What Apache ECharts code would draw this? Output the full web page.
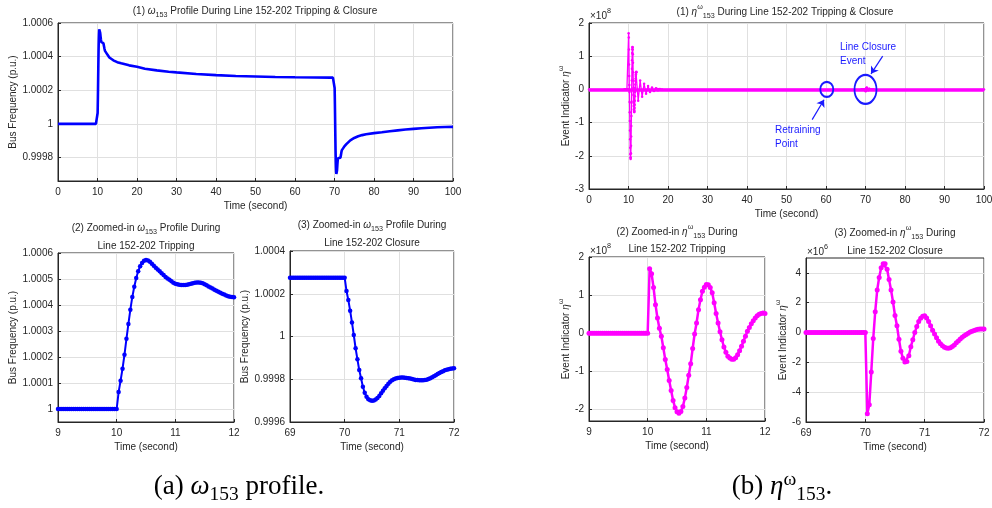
<!DOCTYPE html>
<html><head><meta charset="utf-8">
<script src="https://cdn.jsdelivr.net/npm/echarts@6/dist/echarts.min.js"></script>
<style>html,body{margin:0;padding:0;background:#fff}#c{width:992px;height:508px}</style>
</head><body><div id="c"></div>
<script>
// ---------------- DATA ----------------
const sampleRate = 30;           // samples per second (PMU rate)
const tripStart = 9;             // start time of tripping window
const closeStart = 69;           // start time of closure window

// omega_153 (p.u.), 9..12 s
const omegaTripValues = [
1,1,1,1,1,1,1,1,1,1, 1,1,1,1,1,1,1,1,1,1, 1,1,1,1,1,1,1,1,1,1, 1,
1.000065,1.000109,1.000155,1.000209,1.000270,1.000327,1.000382,1.000431,1.000470,1.000504,1.000530,1.000549,1.000562,1.000570,1.000573,
1.000571,1.000566,1.000559,1.000551,1.000543,1.000537,1.000530,1.000522,1.000515,1.000508,1.000502,1.000497,1.000491,1.000486,1.000482,
1.000480,1.000478,1.000477,1.000477,1.000477,1.000478,1.000480,1.000482,1.000484,1.000486,1.000487,1.000487,1.000486,1.000484,1.000480,
1.000476,1.000471,1.000467,1.000463,1.000459,1.000455,1.000451,1.000447,1.000443,1.000440,1.000437,1.000434,1.000432,1.000431,1.000430
];
// omega_153 (p.u.), 69..72 s
const omegaCloseValues = [
1.000275,1.000275,1.000275,1.000275,1.000275,1.000275,1.000275,1.000275,1.000275,1.000275,
1.000275,1.000275,1.000275,1.000275,1.000275,1.000275,1.000275,1.000275,1.000275,1.000275,
1.000275,1.000275,1.000275,1.000275,1.000275,1.000275,1.000275,1.000275,1.000275,1.000275,
1.000275,
1.000213,1.000171,1.000121,1.000066,1.000007,0.999945,0.999893,0.999843,0.999805,0.999765,0.999737,0.999718,0.999707,0.999702,0.999700,
0.999701,0.999705,0.999712,0.999722,0.999734,0.999746,0.999758,0.999769,0.999779,0.999788,0.999795,0.999800,0.999804,0.999806,0.999807,
0.999808,0.999808,0.999807,0.999806,0.999805,0.999803,0.999801,0.999799,0.999797,0.999796,0.999795,0.999795,0.999795,0.999796,0.999798,
0.999801,0.999805,0.999809,0.999814,0.999819,0.999824,0.999829,0.999834,0.999838,0.999842,0.999845,0.999847,0.999849,0.999850,0.999851
];
// omega_153 slow decay after tripping
const omegaPreTimes = [0];
const omegaPreValues = [1];
const omegaDecayTimes = [12.5,13,14,15,16,17,18,20,22,25,28,30,35,40,45,50,55,60,65];
const omegaDecayValues = [1.000412,1.000395,1.000378,1.000367,1.000360,1.000354,1.000348,1.000340,1.000328,1.000318,1.000310,1.000306,1.000297,1.000290,1.000285,1.000282,1.000279,1.000277,1.000276];
// omega_153 recovery after closure
const omegaRecoveryTimes = [72.5,73,74,75,76,77,78,80,82,84,86,88,90,92,94,96,98,100];
const omegaRecoveryValues = [0.999866,0.999879,0.999902,0.999916,0.999926,0.999933,0.999938,0.999945,0.999950,0.999956,0.999961,0.999966,0.999970,0.999974,0.999977,0.999980,0.999981,0.999982];

// eta (x1e8), 9..12 s
const etaTripValues = [
0,0,0,0,0,0,0,0,0,0, 0,0,0,0,0,0,0,0,0,0, 0,0,0,0,0,0,0,0,0,0, 0,
1.69,1.56,1.20,0.75,0.40,0.13,-0.08,-0.38,-0.69,-0.95,-1.24,-1.50,-1.76,-1.95,-2.06,
-2.10,-2.05,-1.92,-1.70,-1.42,-1.10,-0.80,-0.40,-0.02,0.27,0.62,0.88,1.10,1.21,1.28,
1.27,1.20,1.06,0.80,0.52,0.27,0.04,-0.17,-0.36,-0.50,-0.60,-0.65,-0.68,-0.68,-0.64,
-0.56,-0.46,-0.34,-0.21,-0.08,0.05,0.15,0.25,0.33,0.40,0.46,0.50,0.52,0.53,0.52
];
// eta (x1e6), 69..72 s
const etaCloseValues = [
0,0,0,0,0,0,0,0,0,0, 0,0,0,0,0,0,0,0,0,0, 0,0,0,0,0,0,0,0,0,0, 0,
-5.45,-4.85,-2.65,-0.40,1.40,2.85,3.70,4.35,4.62,4.62,4.25,3.55,2.85,2.05,1.15,
0.45,-0.45,-1.25,-1.72,-1.97,-1.95,-1.55,-0.95,-0.49,0.00,0.40,0.74,0.96,1.10,1.12,
0.97,0.74,0.45,0.16,-0.10,-0.35,-0.58,-0.75,-0.89,-0.98,-1.03,-1.05,-1.02,-0.94,-0.83,
-0.69,-0.56,-0.44,-0.32,-0.22,-0.13,-0.05,0.03,0.09,0.14,0.19,0.22,0.24,0.24,0.23
];
// eta ringing tail after 12 s (x1e8)
const etaPreTimes = [0];
const etaPreValues = [0];
const etaRingTimes = [12.45,12.95,13.45,13.95,14.45,14.95,15.45,15.95,16.45,16.95,17.45,17.95,18.5];
const etaRingValues = [-0.34,0.27,-0.22,0.17,-0.13,0.10,-0.08,0.06,-0.045,0.035,-0.025,0.015,0];
const etaPostTimes = [100];
const etaPostValues = [0];

// tick values
const omegaFullTicks = [0.9998,1,1.0002,1.0004,1.0006];
const omegaTripTicks = [1,1.0001,1.0002,1.0003,1.0004,1.0005,1.0006];
const omegaCloseTicks = [0.9996,0.9998,1,1.0002,1.0004];
const etaFullTicks = [-3,-2,-1,0,1,2];
const etaTripTicks = [-2,-1,0,1,2];
const etaCloseTicks = [-6,-4,-2,0,2,4];

// ---------------- BUILD ----------------
function sampled(t0, vals, scale) {
  scale = scale || 1;
  return vals.map((v, i) => [Math.round((t0 + i / sampleRate) * 10000) / 10000, v * scale]);
}
function pairs(ts, vs, scale) {
  scale = scale || 1;
  return ts.map((t, i) => [t, vs[i] * scale]);
}
const omegaFull = [].concat(
  pairs(omegaPreTimes, omegaPreValues),
  sampled(tripStart, omegaTripValues),
  pairs(omegaDecayTimes, omegaDecayValues),
  sampled(closeStart, omegaCloseValues),
  pairs(omegaRecoveryTimes, omegaRecoveryValues));
const etaFull = [].concat(
  pairs(etaPreTimes, etaPreValues),
  sampled(tripStart, etaTripValues),
  pairs(etaRingTimes, etaRingValues),
  sampled(closeStart, etaCloseValues, 0.01),
  pairs(etaPostTimes, etaPostValues));

const FONT = 'Liberation Sans';
const SERIF = 'Liberation Serif';
const AX = '#262626';
const GRIDC = '#e0e0e0';
const BLUE = '#0000ff';
const MAG = '#ff00ff';
const NOTE = '#1a1aff';

function richSet(size, col, fam, mainLH, subLH, supLH) {
  col = col || AX; fam = fam || FONT;
  const lh = mainLH || Math.round(size * 1.6);
  return {
    n: {fontFamily: fam, fontSize: size, color: col, fill: col, lineHeight: lh},
    i: {fontFamily: fam, fontSize: size, color: col, fill: col, lineHeight: lh, fontStyle: 'italic'},
    sub: {fontFamily: fam, fontSize: size * 0.72, color: col, fill: col, lineHeight: subLH || Math.round(size * 0.8), verticalAlign: 'bottom'},
    sup: {fontFamily: fam, fontSize: size * 0.72, color: col, fill: col, lineHeight: supLH || Math.round(size * 0.8), verticalAlign: 'top'}
  };
}

function grid(left, top, width, height) {
  return {left, top, width, height, show: true, borderColor: AX, borderWidth: 1, containLabel: false, outerBoundsMode: 'none'};
}
function xAx(gi, min, max, interval) {
  return {
    gridIndex: gi, type: 'value', min, max, interval,
    name: 'Time (second)', nameLocation: 'middle', nameGap: 20,
    nameTextStyle: {color: AX, fontSize: 10, fontFamily: FONT},
    axisLine: {show: true, onZero: false, lineStyle: {color: AX, width: 1}},
    axisTick: {show: true, inside: true, length: 3, lineStyle: {color: AX}},
    axisLabel: {color: AX, fontSize: 10, fontFamily: FONT, margin: 6},
    splitLine: {show: true, lineStyle: {color: GRIDC, width: 1}}
  };
}
function yAx(gi, min, max, ticks, name, nameGap, richName) {
  return {
    gridIndex: gi, type: 'value', min, max,
    name, nameLocation: 'middle', nameGap, nameRotate: 90,
    nameTextStyle: {color: AX, fontSize: 10, fontFamily: FONT, rich: richName ? richSet(10) : undefined},
    axisLine: {show: true, onZero: false, lineStyle: {color: AX, width: 1}},
    axisTick: {show: true, inside: true, length: 3, lineStyle: {color: AX}, customValues: ticks},
    axisLabel: {color: AX, fontSize: 10, fontFamily: FONT, margin: 5, customValues: ticks},
    splitLine: {show: true, lineStyle: {color: GRIDC, width: 1}}
  };
}
function gtext(x, y, text, r, align, fam, size, col) {
  return {
    type: 'text', x, y, silent: true, z: 100,
    style: {text, rich: r, align: align || 'center', textAlign: align || 'center',
      verticalAlign: 'middle', textVerticalAlign: 'middle',
      fill: col || AX, fontFamily: fam || FONT, fontSize: size || 10}
  };
}

const R10 = richSet(10);
const RNOTE = richSet(10, NOTE);
const RCAP = richSet(27, '#000', SERIF, 34, 24, 20);

const option = {
  animation: false,
  backgroundColor: '#fff',
  grid: [
    grid(58, 23, 395, 158),
    grid(58, 253, 176, 169),
    grid(290, 251, 164, 171),
    grid(589, 23, 395, 166),
    grid(589, 257, 176, 164),
    grid(806, 258, 178, 164)
  ],
  xAxis: [
    xAx(0, 0, 100, 10),
    xAx(1, 9, 12, 1),
    xAx(2, 69, 72, 1),
    xAx(3, 0, 100, 10),
    xAx(4, 9, 12, 1),
    xAx(5, 69, 72, 1)
  ],
  yAxis: [
    yAx(0, 0.99966, 1.0006, omegaFullTicks, 'Bus Frequency (p.u.)', 39),
    yAx(1, 0.99995, 1.0006, omegaTripTicks, 'Bus Frequency (p.u.)', 38),
    yAx(2, 0.9996, 1.0004, omegaCloseTicks, 'Bus Frequency (p.u.)', 39),
    yAx(3, -3, 2, etaFullTicks, '{n|Event Indicator }{i|η}{sup|ω}', 15, true),
    yAx(4, -2.3, 2, etaTripTicks, '{n|Event Indicator }{i|η}{sup|ω}', 15, true),
    yAx(5, -6, 5, etaCloseTicks, '{n|Event Indicator }{i|η}{sup|ω}', 15, true)
  ],
  series: [
    {type: 'line', xAxisIndex: 0, yAxisIndex: 0, data: omegaFull, showSymbol: false,
      lineStyle: {color: BLUE, width: 2.6}, itemStyle: {color: BLUE}},
    {type: 'line', xAxisIndex: 1, yAxisIndex: 1, data: sampled(tripStart, omegaTripValues),
      symbol: 'circle', symbolSize: 4.5, lineStyle: {color: BLUE, width: 2}, itemStyle: {color: BLUE}},
    {type: 'line', xAxisIndex: 2, yAxisIndex: 2, data: sampled(closeStart, omegaCloseValues),
      symbol: 'circle', symbolSize: 4.5, lineStyle: {color: BLUE, width: 2}, itemStyle: {color: BLUE}},
    {type: 'line', xAxisIndex: 3, yAxisIndex: 3, data: etaFull,
      symbol: 'circle', symbolSize: 2.5, lineStyle: {color: MAG, width: 1.3}, itemStyle: {color: MAG},
      markLine: {silent: true, symbol: ['none', 'none'], label: {show: false},
        lineStyle: {color: MAG, width: 3.5, type: 'solid'}, data: [{yAxis: 0}]},
      markPoint: {silent: true, symbol: 'circle', label: {show: false},
        itemStyle: {color: 'rgba(0,0,0,0)', borderColor: NOTE, borderWidth: 2},
        data: [{coord: [60.2, 0], symbolSize: [13, 15]}, {coord: [70, 0], symbolSize: [22, 29]}]}},
    {type: 'lines', coordinateSystem: 'cartesian2d', xAxisIndex: 3, yAxisIndex: 3, silent: true, z: 5,
      symbol: ['none', 'arrow'], symbolSize: 7,
      lineStyle: {color: NOTE, width: 1.2, opacity: 1, curveness: 0},
      data: [{coords: [[74.35, 1.0], [71.4, 0.47]]}, {coords: [[56.5, -0.91], [59.5, -0.31]]}]},
    {type: 'line', xAxisIndex: 4, yAxisIndex: 4, data: sampled(tripStart, etaTripValues),
      symbol: 'circle', symbolSize: 5, lineStyle: {color: MAG, width: 2.5}, itemStyle: {color: MAG}},
    {type: 'line', xAxisIndex: 5, yAxisIndex: 5, data: sampled(closeStart, etaCloseValues),
      symbol: 'circle', symbolSize: 5, lineStyle: {color: MAG, width: 2.5}, itemStyle: {color: MAG}}
  ],
  graphic: [
    gtext(255, 11, '{n|(1) }{i|ω}{sub|153}{n| Profile During Line 152-202 Tripping & Closure}', R10),
    gtext(146, 228, '{n|(2) Zoomed-in }{i|ω}{sub|153}{n| Profile During}', R10),
    gtext(146, 246, '{n|Line 152-202 Tripping}', R10),
    gtext(372, 225, '{n|(3) Zoomed-in }{i|ω}{sub|153}{n| Profile During}', R10),
    gtext(372, 243, '{n|Line 152-202 Closure}', R10),
    gtext(785, 12, '{n|(1) }{i|η}{sup|ω}{sub|153}{n| During Line 152-202 Tripping & Closure}', R10),
    gtext(677, 232, '{n|(2) Zoomed-in }{i|η}{sup|ω}{sub|153}{n| During}', R10),
    gtext(677, 249, '{n|Line 152-202 Tripping}', R10),
    gtext(895, 233, '{n|(3) Zoomed-in }{i|η}{sup|ω}{sub|153}{n| During}', R10),
    gtext(895, 251, '{n|Line 152-202 Closure}', R10),
    gtext(590, 16, '{n|×10}{sup|8}', R10, 'left'),
    gtext(590, 251, '{n|×10}{sup|8}', R10, 'left'),
    gtext(807, 252, '{n|×10}{sup|6}', R10, 'left'),
    gtext(840, 47, '{n|Line Closure}', RNOTE, 'left'),
    gtext(840, 61, '{n|Event}', RNOTE, 'left'),
    gtext(775, 130, '{n|Retraining}', RNOTE, 'left'),
    gtext(775, 144, '{n|Point}', RNOTE, 'left'),
    gtext(239, 487, '{n|(a) }{i|ω}{sub|153}{n| profile.}', RCAP, 'center', SERIF, 27, '#000'),
    gtext(782, 487, '{n|(b) }{i|η}{sup|ω}{sub|153}{n|.}', RCAP, 'center', SERIF, 27, '#000')
  ]
};

const chart = echarts.init(document.getElementById('c'), null, {renderer: 'canvas'});
chart.setOption(option);
</script>
</body></html>
